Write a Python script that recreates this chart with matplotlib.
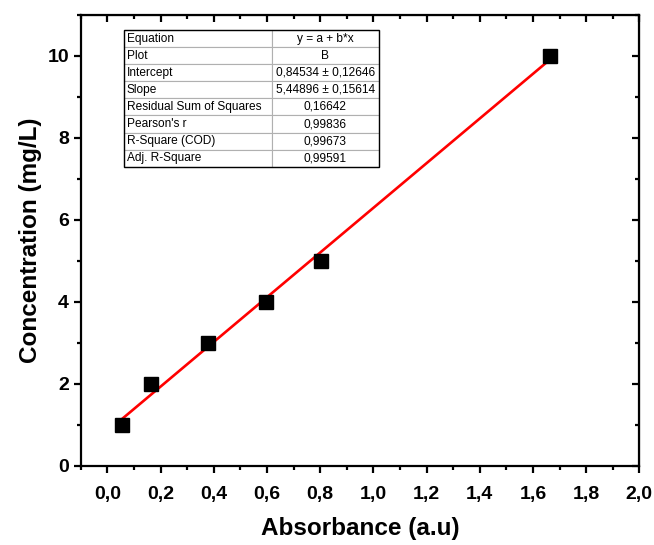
import matplotlib
matplotlib.use("Agg")
import matplotlib.pyplot as plt
import numpy as np
from matplotlib.ticker import MultipleLocator, FuncFormatter

# Calibration data
absorbance = [0.056, 0.164, 0.377, 0.595, 0.803, 1.663]
concentration = [1, 2, 3, 4, 5, 10]

# Linear fit results (from the fit table)
intercept = 0.84534
slope = 5.44896

table_labels = ["Equation", "Plot", "Intercept", "Slope", "Residual Sum of Squares",
                "Pearson's r", "R-Square (COD)", "Adj. R-Square"]
table_values = ["y = a + b*x", "B", "0,84534 ± 0,12646", "5,44896 ± 0,15614",
                "0,16642", "0,99836", "0,99673", "0,99591"]

plt.rcParams["font.family"] = ["Liberation Sans", "DejaVu Sans"]

fig = plt.figure(figsize=(6.54, 5.45), dpi=100)
ax = fig.add_axes([80.7 / 654, 79 / 545, 558.6 / 654, 451 / 545])

ax.plot(absorbance, concentration, "s", color="black", markersize=10, zorder=3)
fit_x = np.array([absorbance[0], absorbance[-1]])
ax.plot(fit_x, intercept + slope * fit_x, color="red", linewidth=1.9, zorder=2)

ax.set_xlim(-0.1, 2.0)
ax.set_ylim(0, 11)
ax.xaxis.set_major_locator(MultipleLocator(0.2))
ax.xaxis.set_minor_locator(MultipleLocator(0.1))
ax.yaxis.set_major_locator(MultipleLocator(2))
ax.yaxis.set_minor_locator(MultipleLocator(1))
ax.xaxis.set_major_formatter(FuncFormatter(lambda v, p: f"{v:.1f}".replace(".", ",")))
ax.yaxis.set_major_formatter(FuncFormatter(lambda v, p: f"{v:.0f}"))

for s in ax.spines.values():
    s.set_linewidth(1.6)

ax.tick_params(which="major", direction="out", length=5, width=1.6, labelsize=14)
ax.tick_params(which="minor", direction="out", length=3, width=1.6)
ax.tick_params(axis="x", which="major", pad=9.5)
for lab in ax.get_xticklabels() + ax.get_yticklabels():
    lab.set_fontweight("bold")

# inward ticks on top and right
top = ax.secondary_xaxis("top")
top.xaxis.set_major_locator(MultipleLocator(0.2))
top.xaxis.set_minor_locator(MultipleLocator(0.1))
top.tick_params(which="major", direction="in", length=5, width=1.6, labeltop=False)
top.tick_params(which="minor", direction="in", length=3, width=1.6)
right = ax.secondary_yaxis("right")
right.yaxis.set_major_locator(MultipleLocator(2))
right.yaxis.set_minor_locator(MultipleLocator(1))
right.tick_params(which="major", direction="in", length=5, width=1.6, labelright=False)
right.tick_params(which="minor", direction="in", length=3, width=1.6)

ax.set_xlabel("Absorbance (a.u)", fontsize=17.5, fontweight="bold", labelpad=10)
ax.set_ylabel("Concentration (mg/L)", fontsize=17.5, fontweight="bold", labelpad=4)

# fit results table
cells = [[a, b] for a, b in zip(table_labels, table_values)]
tbl = ax.table(cellText=cells, colWidths=[0.5785, 0.4215],
               bbox=[0.0775, 0.6636, 0.457, 0.303], zorder=5)
tbl.auto_set_font_size(False)
for (r, c), cell in tbl.get_celld().items():
    cell.set_edgecolor("#b0b0b0")
    cell.set_linewidth(0.8)
    cell.get_text().set_fontsize(8.6)
    if c == 0:
        cell.get_text().set_ha("left")
        cell.PAD = 0.02
    else:
        cell.get_text().set_ha("center")
ax.add_patch(plt.Rectangle((0.0775, 0.6636), 0.457, 0.303, transform=ax.transAxes,
                           fill=False, edgecolor="black", linewidth=1.0, zorder=6))

fig.savefig("out.png", dpi=100)
